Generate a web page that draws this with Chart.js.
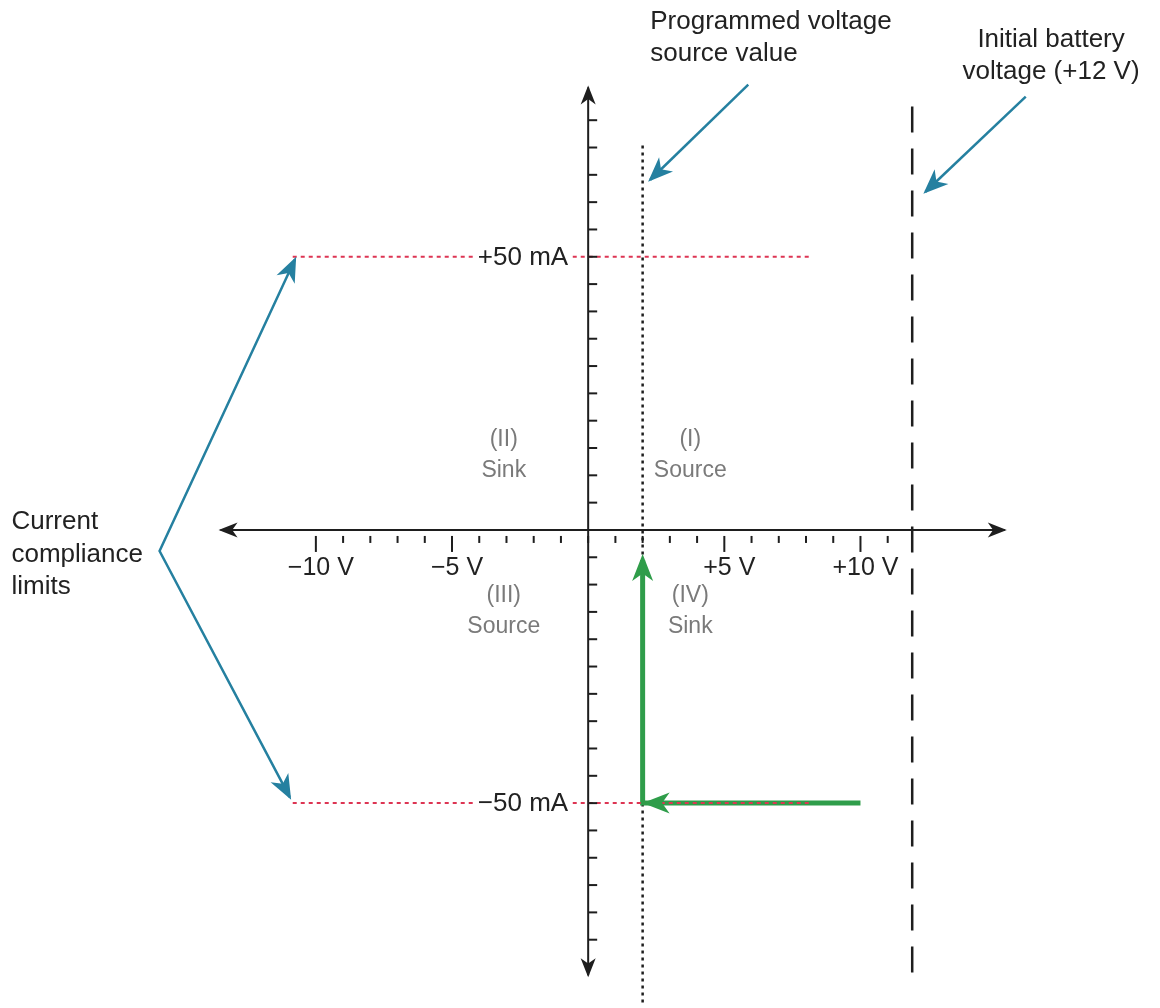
<!DOCTYPE html>
<html>
<head>
<meta charset="utf-8">
<script src="https://cdn.jsdelivr.net/npm/chart.js@4.4.1/dist/chart.umd.min.js"></script>
<style>
  html, body { margin: 0; padding: 0; background: #fff; }
</style>
</head>
<body>
<canvas id="chart" width="1160" height="1008"></canvas>
<script>
// voltage axis (V)
const voltTicks = [-10, -9, -8, -7, -6, -5, -4, -3, -2, -1, 0, 1, 2, 3, 4, 5, 6, 7, 8, 9, 10, 11]
const majorVolts = [-10, -5, 5, 10]
const voltLabels = ["−10 V", "−5 V", "+5 V", "+10 V"]
const axisVolts = [-13.5, 15.3]

// current axis (mA)
const currentTicks = [75, 70, 65, 60, 55, 50, 45, 40, 35, 30, 25, 20, 15, 10, 5,
  -5, -10, -15, -20, -25, -30, -35, -40, -45, -50, -55, -60, -65, -70, -75]
const labelledCurrents = [50, -50]
const currentLabels = ["+50 mA", "−50 mA"]
const axisCurrents = [-81.5, 81]

// compliance limits and reference voltages
const complianceLimits = [50, -50]
const limitVolts = [-10.85, 8.15]
const programmedVolts = 2
const programmedExtent = [-86.5, 71]
const batteryVolts = 11.9
const batteryExtent = [-81, 77.5]

// operating path of the source
const sweepVolts = [10, 2, 2]
const sweepCurrents = [-50, -50, -5.5]

// quadrant captions
const quadrantNames = ["(I)", "(II)", "(III)", "(IV)"]
const quadrantModes = ["Source", "Sink", "Source", "Sink"]
const quadrantVolts = [3.75, -3.1, -3.1, 3.75]
const quadrantCurrents = [16.6, 16.6, -12.1, -12.1]

// callouts
const programmedText = ["Programmed voltage", "source value"]
const programmedTextAt = [2.28, [93.0, 87.2]]
const programmedPointerVolts = [5.88, 2.28]
const programmedPointerCurrents = [81.5, 64.1]

const batteryText = ["Initial battery", "voltage (+12 V)"]
const batteryTextAt = [17.0, [89.7, 83.9]]
const batteryPointerVolts = [16.07, 12.39]
const batteryPointerCurrents = [79.3, 61.9]

const complianceText = ["Current", "compliance", "limits"]
const complianceTextAt = [-21.18, [1.5, -4.6, -10.45]]
const compliancePointerVolts = [-10.77, -15.74, -10.96]
const compliancePointerCurrents = [49.5, -3.85, -48.9]

const axisColor = "#1e1e1e"
const teal = "#2580a0"
const green = "#2f9d4a"
const red = "#dd3553"
const font = "'Liberation Sans', Arial, sans-serif"

const pts = (xs, ys) => xs.map((x, i) => ({ x, y: ys[i] }))
const line = (data, color, width, dash) => ({
  data,
  showLine: true,
  borderColor: color,
  borderWidth: width,
  borderDash: dash || [],
  pointRadius: 0,
  fill: false,
  tension: 0,
})

const datasets = [
  line(pts(limitVolts, [complianceLimits[0], complianceLimits[0]]), red, 2, [4, 4]),
  line(pts(limitVolts, [complianceLimits[1], complianceLimits[1]]), red, 2, [4, 4]),
  line(pts(sweepVolts, sweepCurrents), green, 5),
  line(pts([programmedVolts, programmedVolts], programmedExtent), axisColor, 2.5, [3, 4]),
  line(pts([batteryVolts, batteryVolts], batteryExtent), axisColor, 2.5, [26, 16]),
  line(pts(axisVolts, [0, 0]), axisColor, 2),
  line(pts([0, 0], axisCurrents), axisColor, 2),
  line(pts(programmedPointerVolts, programmedPointerCurrents), teal, 2.5),
  line(pts(batteryPointerVolts, batteryPointerCurrents), teal, 2.5),
  line(pts(compliancePointerVolts, compliancePointerCurrents), teal, 2.5),
]

// arrowheads: dataset index, segment start, segment end, length, width, extension past the end
const arrows = [
  [2, 0, 1, 27, 21, 0],
  [2, 1, 2, 27, 21, 6],
  [5, 1, 0, 19, 15, 2],
  [5, 0, 1, 19, 15, 2],
  [6, 0, 1, 19, 15, 2],
  [6, 1, 0, 19, 15, 2],
  [7, 0, 1, 25, 20, 3],
  [8, 0, 1, 25, 20, 3],
  [9, 1, 0, 25, 20, 3],
  [9, 1, 2, 25, 20, 3],
]

function arrowHead(ctx, ax, ay, bx, by, len, wid, ext, color) {
  const d = Math.hypot(bx - ax, by - ay)
  const ux = (bx - ax) / d, uy = (by - ay) / d
  const tx = bx + ux * ext, ty = by + uy * ext
  const nx = -uy, ny = ux
  ctx.fillStyle = color
  ctx.beginPath()
  ctx.moveTo(tx, ty)
  ctx.lineTo(tx - ux * len + nx * wid / 2, ty - uy * len + ny * wid / 2)
  ctx.lineTo(tx - ux * len * 0.72, ty - uy * len * 0.72)
  ctx.lineTo(tx - ux * len - nx * wid / 2, ty - uy * len - ny * wid / 2)
  ctx.closePath()
  ctx.fill()
}

const diagramPlugin = {
  id: "diagram",
  afterDatasetsDraw(chart) {
    const ctx = chart.ctx
    const px = (v) => chart.scales.x.getPixelForValue(v)
    const py = (v) => chart.scales.y.getPixelForValue(v)
    const x0 = px(0), y0 = py(0)
    ctx.save()

    // tick marks
    ctx.strokeStyle = axisColor
    ctx.lineWidth = 2
    voltTicks.forEach((v) => {
      const len = majorVolts.includes(v) ? 16 : 7
      ctx.beginPath()
      ctx.moveTo(px(v), y0 + 6)
      ctx.lineTo(px(v), y0 + 6 + len)
      ctx.stroke()
    })
    currentTicks.forEach((c) => {
      ctx.beginPath()
      ctx.moveTo(x0, py(c))
      ctx.lineTo(x0 + 9, py(c))
      ctx.stroke()
    })

    // arrowheads
    arrows.forEach(([ds, a, b, len, wid, ext]) => {
      const d = chart.data.datasets[ds]
      const p = d.data
      arrowHead(ctx, px(p[a].x), py(p[a].y), px(p[b].x), py(p[b].y), len, wid, ext, d.borderColor)
    })

    // axis labels
    ctx.fillStyle = "#222"
    ctx.font = "25px " + font
    ctx.textAlign = "center"
    ctx.textBaseline = "middle"
    majorVolts.forEach((v, i) => ctx.fillText(voltLabels[i], px(v) + 5, y0 + 38))

    ctx.font = "26px " + font
    ctx.textAlign = "right"
    labelledCurrents.forEach((c, i) => {
      const w = ctx.measureText(currentLabels[i]).width
      ctx.fillStyle = "#fff"
      ctx.fillRect(x0 - 20 - w - 4, py(c) - 14, w + 8, 28)
      ctx.fillStyle = "#222"
      ctx.fillText(currentLabels[i], x0 - 20, py(c) + 1)
    })

    // quadrant captions
    ctx.fillStyle = "#7a7a7a"
    ctx.font = "23px " + font
    ctx.textAlign = "center"
    quadrantNames.forEach((q, i) => {
      const x = px(quadrantVolts[i]), y = py(quadrantCurrents[i])
      ctx.fillText(q, x, y)
      ctx.fillText(quadrantModes[i], x, y + 31)
    })

    // callout texts
    ctx.fillStyle = "#222"
    ctx.font = "26px " + font
    const callout = (lines, at, align) => {
      ctx.textAlign = align
      lines.forEach((t, i) => ctx.fillText(t, px(at[0]), py(at[1][i])))
    }
    callout(programmedText, programmedTextAt, "left")
    callout(batteryText, batteryTextAt, "center")
    callout(complianceText, complianceTextAt, "left")

    ctx.restore()
  },
}

new Chart(document.getElementById("chart"), {
  type: "scatter",
  data: { datasets },
  options: {
    responsive: false,
    animation: false,
    devicePixelRatio: 1,
    layout: { padding: 0 },
    plugins: { legend: { display: false }, tooltip: { enabled: false } },
    scales: {
      x: { type: "linear", min: -21.6, max: 21.0, display: false },
      y: { type: "linear", min: -87.5, max: 97, display: false },
    },
  },
  plugins: [diagramPlugin],
})
</script>
</body>
</html>
